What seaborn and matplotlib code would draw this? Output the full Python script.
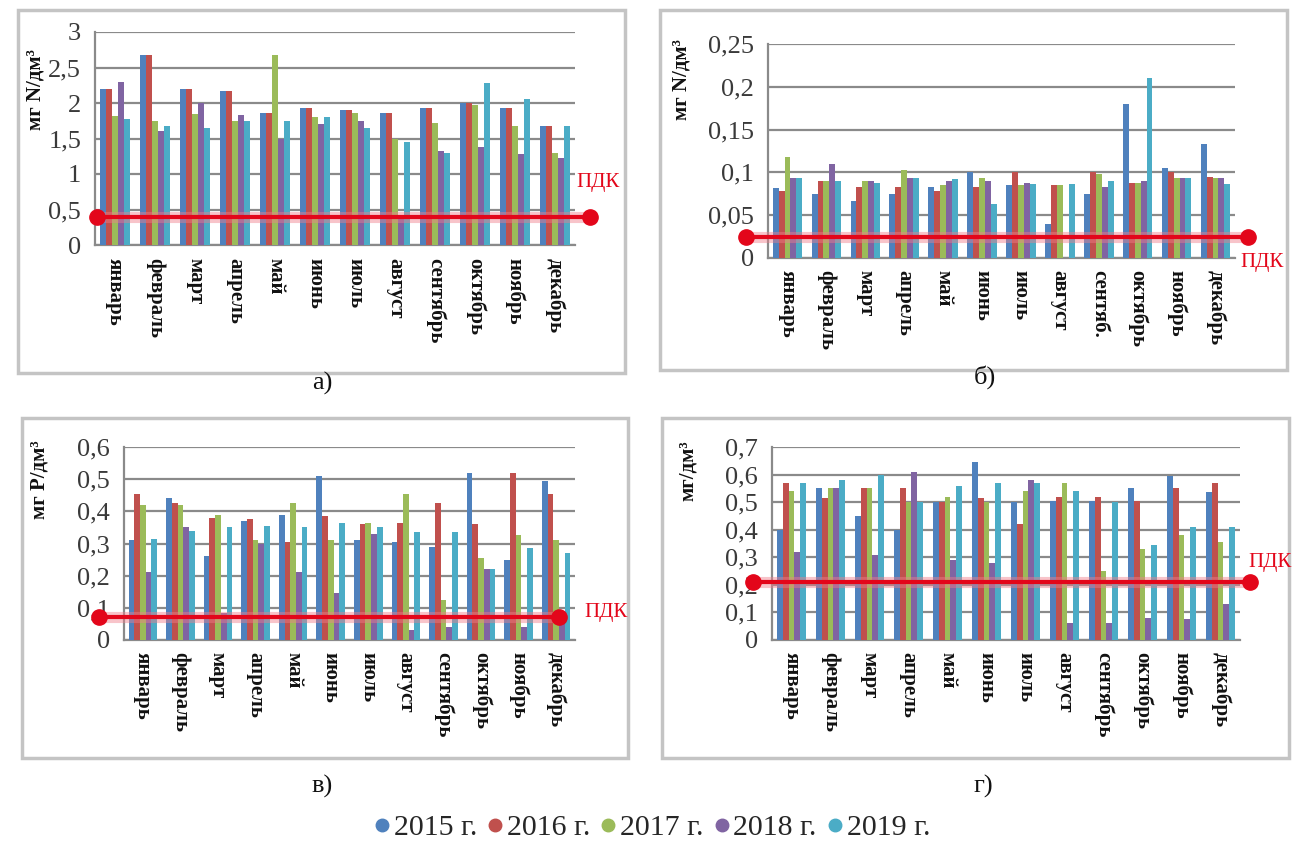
import numpy as np
import pandas as pd
import matplotlib
matplotlib.use("Agg")
import matplotlib.pyplot as plt
from matplotlib.patches import Rectangle
from matplotlib.lines import Line2D
from matplotlib.ticker import FuncFormatter, MultipleLocator
import seaborn as sns

sns.set_theme(style="white")
plt.rcParams["font.family"] = ["Liberation Serif", "DejaVu Serif"]

W, H = 1299, 841

# --- data -------------------------------------------------------------
years = ["2015 г.", "2016 г.", "2017 г.", "2018 г.", "2019 г."]
colors = ["#4F81BD", "#C0504D", "#9BBB59", "#8064A2", "#4BACC6"]

months = ["январь", "февраль", "март", "апрель", "май", "июнь",
          "июль", "август", "сентябрь", "октябрь", "ноябрь", "декабрь"]
months_b = ["январь", "февраль", "март", "апрель", "май", "июнь",
            "июль", "август", "сентяб.", "октябрь", "ноябрь", "декабрь"]

# а) rows = years 2015..2019, columns = months
values_a = [
    [2.20, 2.68, 2.20, 2.17, 1.86, 1.93, 1.90, 1.86, 1.93, 2.00, 1.93, 1.68],
    [2.20, 2.68, 2.20, 2.17, 1.86, 1.93, 1.90, 1.86, 1.93, 2.00, 1.93, 1.68],
    [1.82, 1.75, 1.85, 1.75, 2.68, 1.80, 1.86, 1.50, 1.72, 1.97, 1.68, 1.30],
    [2.30, 1.60, 2.00, 1.83, 1.50, 1.70, 1.75, 0.38, 1.33, 1.38, 1.28, 1.22],
    [1.77, 1.68, 1.65, 1.75, 1.75, 1.80, 1.65, 1.45, 1.30, 2.28, 2.05, 1.68],
]
# б)
values_b = [
    [0.082, 0.075, 0.067, 0.075, 0.083, 0.100, 0.085, 0.040, 0.075, 0.180, 0.105, 0.133],
    [0.078, 0.090, 0.083, 0.083, 0.078, 0.083, 0.100, 0.085, 0.100, 0.088, 0.100, 0.095],
    [0.118, 0.090, 0.090, 0.103, 0.085, 0.093, 0.085, 0.085, 0.098, 0.088, 0.093, 0.093],
    [0.093, 0.110, 0.090, 0.093, 0.090, 0.090, 0.088, np.nan, 0.083, 0.090, 0.093, 0.093],
    [0.093, 0.090, 0.088, 0.093, 0.092, 0.063, 0.087, 0.087, 0.090, 0.210, 0.093, 0.087],
]
# в)
values_c = [
    [0.310, 0.440, 0.260, 0.370, 0.390, 0.510, 0.310, 0.305, 0.290, 0.520, 0.250, 0.495],
    [0.455, 0.425, 0.380, 0.375, 0.305, 0.385, 0.360, 0.365, 0.425, 0.360, 0.520, 0.455],
    [0.420, 0.420, 0.390, 0.310, 0.425, 0.310, 0.365, 0.455, 0.125, 0.255, 0.325, 0.310],
    [0.210, 0.350, 0.085, 0.300, 0.210, 0.145, 0.330, 0.030, 0.040, 0.220, 0.040, 0.070],
    [0.315, 0.340, 0.350, 0.355, 0.350, 0.365, 0.350, 0.335, 0.335, 0.220, 0.285, 0.270],
]
# г)
values_d = [
    [0.400, 0.550, 0.450, 0.400, 0.500, 0.645, 0.500, 0.505, 0.505, 0.550, 0.595, 0.535],
    [0.570, 0.515, 0.550, 0.550, 0.500, 0.515, 0.420, 0.520, 0.520, 0.505, 0.550, 0.570],
    [0.540, 0.550, 0.550, 0.500, 0.520, 0.500, 0.540, 0.570, 0.250, 0.330, 0.380, 0.355],
    [0.320, 0.550, 0.310, 0.610, 0.290, 0.280, 0.580, 0.060, 0.060, 0.080, 0.075, 0.130],
    [0.570, 0.580, 0.600, 0.500, 0.560, 0.570, 0.570, 0.540, 0.500, 0.345, 0.410, 0.410],
]

pdk_a, pdk_b, pdk_c, pdk_d = 0.40, 0.025, 0.07, 0.21

ylabels = ["мг N/дм³", "мг N/дм³", "мг P/дм³", "мг/дм³"]
captions = ["а)", "б)", "в)", "г)"]


def fx(x):
    return x / W


def fy(y):
    return 1 - y / H


def comma_fmt(v, _pos):
    return f"{round(v, 3):g}".replace(".", ",")


fig = plt.figure(figsize=(W / 100, H / 100), dpi=100)
fig.patch.set_facecolor("white")

# panel frames (pixel boxes: left, top, right, bottom)
frames = [(18, 10, 625, 373), (660, 10, 1287, 370),
          (22, 418, 628, 758), (662, 418, 1289, 758)]
for (l, t, r, b) in frames:
    fig.patches.append(Rectangle((fx(l), fy(b)), fx(r - l), (b - t) / H,
                                 transform=fig.transFigure, fill=False,
                                 edgecolor="#c4c4c4", lw=2.5, zorder=0))

panels = [
    dict(vals=values_a, labels=months, pdk=pdk_a, box=(95, 32, 575, 245),
         ymax=3.0, step=0.5, pdk_x=(-0.45, 11.88), pdk_txt=(598, 183),
         ylab=(35, 90), cap=(322, 383)),
    dict(vals=values_b, labels=months_b, pdk=pdk_b, box=(768, 44, 1235, 258),
         ymax=0.25, step=0.05, pdk_x=(-1.07, 11.84), pdk_txt=(1262, 262),
         ylab=(681, 80), cap=(985, 377)),
    dict(vals=values_c, labels=months, pdk=pdk_c, box=(124, 447, 575, 640),
         ymax=0.6, step=0.1, pdk_x=(-1.16, 11.07), pdk_txt=(606, 612),
         ylab=(40, 480), cap=(322, 786)),
    dict(vals=values_d, labels=months, pdk=pdk_d, box=(772, 447, 1240, 640),
         ymax=0.7, step=0.1, pdk_x=(-0.99, 11.76), pdk_txt=(1270, 562),
         ylab=(688, 471), cap=(983, 786)),
]

for i, p in enumerate(panels):
    l, t, r, b = p["box"]
    ax = fig.add_axes([fx(l), fy(b), fx(r - l), (b - t) / H])
    rows = []
    for y, series in zip(years, p["vals"]):
        for m, v in zip(months, series):
            rows.append((m, y, v))
    df = pd.DataFrame(rows, columns=["month", "year", "value"]).dropna()
    sns.barplot(data=df, x="month", y="value", hue="year", order=months,
                hue_order=years, palette=colors, width=0.76, saturation=1,
                errorbar=None, legend=False, ax=ax, zorder=3, linewidth=0)

    ax.set_xlim(-0.5, 11.5)
    ax.set_ylim(0, p["ymax"])
    ax.yaxis.set_major_locator(MultipleLocator(p["step"]))
    ax.yaxis.set_major_formatter(FuncFormatter(comma_fmt))
    ax.grid(axis="y", color="#8a8a8a", lw=1.6, zorder=0)
    ax.set_axisbelow(True)
    ax.set_xlabel("")
    ax.set_ylabel("")
    for s in ["top", "right"]:
        ax.spines[s].set_visible(False)
    for s in ["left", "bottom"]:
        ax.spines[s].set_color("#8a8a8a")
        ax.spines[s].set_linewidth(1.6)

    ax.set_xticks(range(12))
    ax.set_xticklabels(p["labels"], rotation=270, fontsize=15,
                       fontweight="bold", color="#111111", va="top", ha="center")
    ax.set_xticks(np.arange(-0.5, 12, 1), minor=True)
    ax.tick_params(axis="x", which="major", length=0, pad=9)
    ax.tick_params(axis="x", which="minor", length=5, width=1.2,
                   color="#8a8a8a", direction="out")
    ax.tick_params(axis="y", length=6, width=1.2, color="#8a8a8a",
                   labelsize=19, labelcolor="#3a3a3a", pad=4)
    ax.set_facecolor("white")

    # ПДК line
    x0, x1 = p["pdk_x"]
    ax.plot([x0, x1], [p["pdk"], p["pdk"]], color="#f07d8a", lw=8,
            alpha=0.45, clip_on=False, zorder=4, solid_capstyle="butt")
    ax.plot([x0, x1], [p["pdk"], p["pdk"]], color="#e3061a", lw=3,
            marker="o", ms=11, clip_on=False, zorder=5)

    tx, ty = p["pdk_txt"]
    fig.text(fx(tx), fy(ty), "ПДК", color="#e3061a", fontsize=15,
             ha="center", va="center")

    lx, ly = p["ylab"]
    fig.text(fx(lx), fy(ly), ylabels[i], rotation=90, fontsize=15,
             fontweight="bold", ha="center", va="center", color="#111111")

    cx, cy = p["cap"]
    fig.text(fx(cx), fy(cy), captions[i], fontsize=19, ha="center",
             va="center", color="#111111")

handles = [Line2D([], [], ls="none", marker="o", ms=9, color=c) for c in colors]
fig.legend(handles, years, loc="center", bbox_to_anchor=(fx(650), fy(828)),
           ncol=5, frameon=False, fontsize=21.5, handletextpad=0.0,
           columnspacing=0.2, handlelength=0.8, borderpad=0)

fig.savefig("out.png", dpi=100, facecolor="white")
